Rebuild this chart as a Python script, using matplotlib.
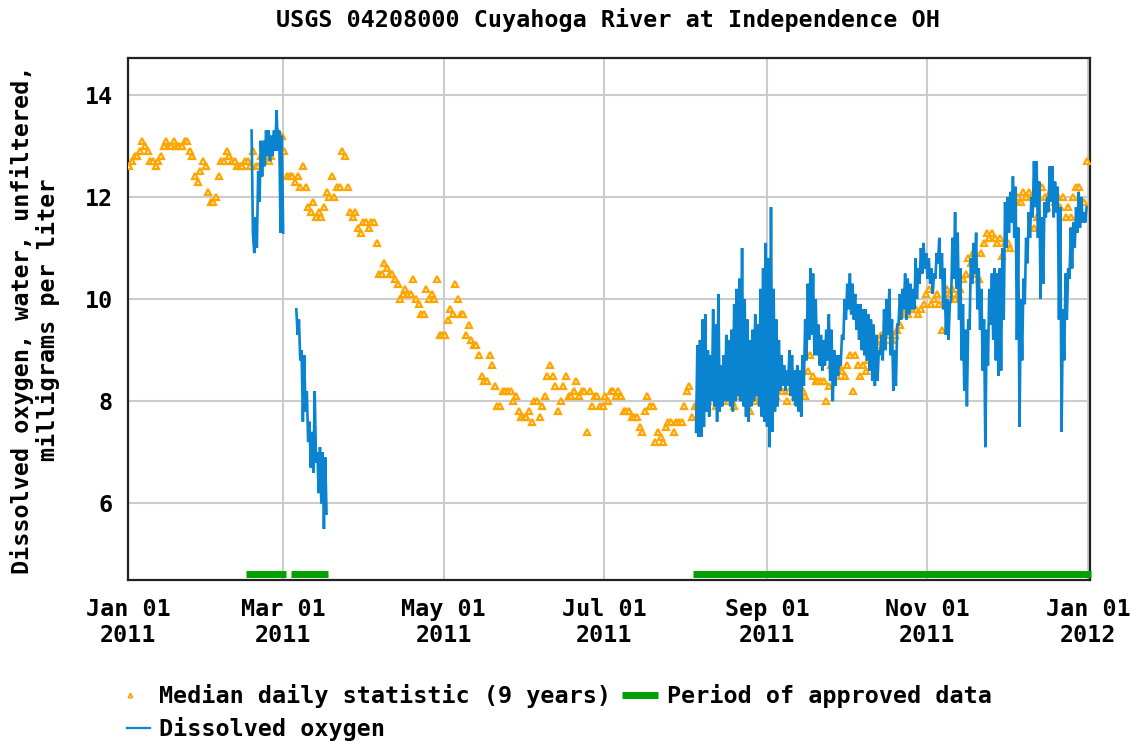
import numpy as np
import matplotlib
matplotlib.use("Agg")
import matplotlib.pyplot as plt
from matplotlib.lines import Line2D
import matplotlib.transforms as mtrans

# ---------------- data ----------------
title = "USGS 04208000 Cuyahoga River at Independence OH"
ylabel = "Dissolved oxygen, water, unfiltered,\nmilligrams per liter"

tick_days = [0, 59, 120, 181, 243, 304, 365]
tick_labels = ["Jan 01\n2011", "Mar 01\n2011", "May 01\n2011", "Jul 01\n2011",
               "Sep 01\n2011", "Nov 01\n2011", "Jan 01\n2012"]
y_ticks = [6, 8, 10, 12, 14]

# median daily statistic (9 years), one value per day of 2011
median_jan = [12.6, 12.7, 12.8, 12.8, 12.9, 13.1, 13.0, 12.9, 12.7, 12.7, 12.6, 12.7, 12.8, 13.0, 13.1, 13.0,
              13.0, 13.1, 13.0, 13.0, 13.0, 13.1, 13.1, 12.9, 12.8, 12.4, 12.3, 12.5, 12.7, 12.6, 12.1]
median_feb = [11.9, 11.9, 12.0, 12.4, 12.7, 12.7, 12.9, 12.8, 12.7, 12.7, 12.6, 12.6, 12.6, 12.7, 12.7, 12.6,
              12.9, 12.6, 12.6, 12.8, 12.9, 12.8, 12.7, 12.8, 13.1, 13.3, 13.2, 13.2]
median_mar = [12.9, 12.4, 12.4, 12.4, 12.3, 12.4, 12.2, 12.6, 12.2, 11.8, 11.7, 11.9, 11.6, 11.7, 11.6, 11.8,
              12.1, 12.0, 12.4, 12.0, 12.2, 12.2, 12.9, 12.8, 12.2, 11.7, 11.6, 11.7, 11.4, 11.3, 11.5]
median_apr = [11.5, 11.4, 11.5, 11.5, 11.1, 10.5, 10.5, 10.7, 10.6, 10.5, 10.5, 10.4, 10.3, 10.0, 10.1, 10.2,
              10.1, 10.1, 10.4, 10.0, 9.9, 9.7, 9.7, 10.2, 10.0, 10.1, 10.0, 10.4, 9.3, 9.3]
median_may = [9.3, 9.6, 9.8, 9.7, 10.3, 10.0, 9.7, 9.7, 9.3, 9.5, 9.2, 9.1, 9.1, 8.9, 8.5, 8.4,
              8.4, 8.9, 8.7, 8.3, 7.9, 7.9, 8.2, 8.2, 8.2, 8.2, 8.0, 8.1, 7.8, 7.7, 7.7]
median_jun = [7.7, 7.8, 7.6, 8.0, 8.0, 7.7, 7.9, 8.1, 8.5, 8.7, 8.5, 8.3, 7.8, 8.0, 8.3, 8.5,
              8.1, 8.1, 8.2, 8.4, 8.1, 8.2, 8.2, 7.4, 8.2, 7.9, 8.1, 8.1, 7.9, 7.9]
median_jul = [8.1, 8.0, 8.2, 8.2, 8.1, 8.2, 8.1, 7.8, 7.8, 7.8, 7.7, 7.7, 7.7, 7.5, 7.4, 7.8,
              8.1, 7.9, 7.9, 7.2, 7.4, 7.3, 7.2, 7.5, 7.6, 7.6, 7.4, 7.6, 7.6, 7.6, 7.9]
median_aug = [8.2, 8.3, 7.7, 7.9, 7.9, 8.0, 7.9, 8.1, 8.0, 8.2, 8.1, 7.9, 8.0, 8.1, 8.0, 8.2,
              8.1, 8.0, 7.9, 8.1, 8.2, 8.3, 8.4, 8.0, 7.8, 8.2, 8.0, 8.1, 8.2, 8.0, 8.1]
median_sep = [8.2, 8.3, 8.0, 8.1, 8.3, 8.2, 8.4, 8.0, 8.2, 8.3, 8.1, 8.0, 8.3, 8.2, 8.1, 8.6,
              8.9, 8.5, 8.4, 8.4, 8.4, 8.4, 8.0, 8.3, 8.7, 8.6, 8.5, 8.7, 8.6, 8.5]
median_oct = [8.7, 8.9, 8.2, 8.9, 8.7, 8.5, 8.7, 8.6, 8.8, 8.9, 9.1, 9.2, 9.1, 9.3, 9.2, 9.4,
              9.3, 9.2, 9.3, 9.4, 9.5, 9.7, 9.8, 9.7, 9.8, 9.8, 9.8, 9.7, 9.8, 9.9, 10.1]
median_nov = [10.2, 9.9, 10.0, 10.1, 9.9, 9.4, 10.0, 10.2, 10.1, 10.2, 10.0, 10.1, 10.2, 10.4, 10.5, 10.8,
              10.7, 10.9, 10.5, 10.4, 10.9, 11.1, 11.3, 11.2, 11.3, 11.2, 11.1, 11.2, 10.85, 11.1]
median_dec = [11.1, 11.0, 11.8, 11.9, 12.0, 11.9, 12.1, 12.0, 12.1, 12.0, 11.4, 11.6, 12.2, 12.2, 12.0, 11.8,
              12.1, 12.2, 11.9, 12.0, 11.8, 12.0, 11.6, 11.8, 11.6, 12.0, 12.2, 12.2, 11.7, 11.9, 12.7]

# dissolved oxygen, sampled every half day (start day, values)
do_step = 0.5
do_seg1_start = 47.0
do_seg1 = [13.3, 11.3, 10.9, 11.6, 11.0, 12.5, 11.9, 13.1, 12.4, 13.1, 12.6, 13.3, 12.8, 13.3, 12.7,
           13.2, 12.8, 13.3, 12.9, 13.7, 12.9, 13.3, 11.3, 13.2, 11.3]
do_seg2_start = 64.0
do_seg2 = [9.8, 9.3, 9.6, 8.8, 9.0, 7.6, 8.9, 7.8, 8.2, 7.2, 7.6, 6.7, 7.4, 6.6, 8.2, 6.8,
           7.0, 6.2, 7.1, 6.0, 7.0, 5.5, 6.9, 5.8]
do_seg3_start = 216.0
do_seg3 = [
    7.4, 9.1, 7.3, 9.2, 7.3, 9.6, 7.5, 9.7, 7.8, 9.0, 7.7, 8.9, 8.0, 9.8, 7.9, 9.5,
    7.6, 10.1, 7.8, 8.7, 7.9, 8.9, 8.0, 9.3, 8.0, 9.2, 7.9, 9.4, 7.8, 9.9, 8.0, 10.2,
    8.1, 10.4, 8.0, 11.0, 7.9, 10.0, 7.7, 9.6, 7.6, 9.2, 7.9, 9.4, 8.0, 9.7, 8.1, 9.5,
    7.9, 10.2, 7.7, 10.6, 7.6, 11.1, 7.5, 10.8, 7.1, 11.8, 7.4, 10.2, 7.8, 9.6, 7.9, 9.2,
    8.2, 8.9, 8.3, 8.7, 8.2, 8.6, 8.3, 9.0, 8.1, 8.9, 8.0, 8.6, 7.9, 8.7, 7.8, 8.6,
    7.7, 8.9, 8.3, 9.6, 8.8, 10.3, 9.2, 10.6, 9.3, 10.5, 8.9, 10.0, 8.9, 9.5, 8.7, 9.3,
    8.6, 9.2, 8.7, 9.4, 8.8, 9.7, 8.4, 9.4, 8.0, 9.0, 8.3, 8.9, 8.5, 8.9, 8.7, 9.3,
    9.2, 10.0, 9.6, 10.3, 9.8, 10.5, 9.7, 10.3, 9.6, 10.1, 9.4, 9.9, 9.2, 9.9, 9.0, 9.8,
    8.9, 9.8, 8.8, 9.7, 8.6, 9.6, 8.4, 9.5, 8.3, 9.3, 8.4, 9.0, 8.9, 9.3, 8.8, 9.8,
    9.0, 10.0, 9.3, 10.2, 8.9, 9.6, 8.2, 9.0, 8.3, 9.5, 9.5, 10.1, 9.6, 10.2, 9.8, 10.5,
    9.6, 10.4, 9.7, 10.3, 9.8, 10.2, 9.8, 10.8, 10.0, 10.6, 10.3, 11.0, 10.5, 11.1, 10.6, 10.9,
    10.4, 10.8, 10.3, 10.6, 10.1, 10.5, 10.4, 10.9, 10.7, 11.2, 10.4, 10.9, 9.8, 10.6, 9.3, 10.0,
    9.2, 9.9, 10.0, 11.2, 10.4, 11.7, 10.2, 11.3, 9.6, 10.6, 8.8, 9.9, 8.2, 9.4, 7.9, 9.6,
    9.4, 10.8, 10.3, 11.1, 10.5, 11.3, 9.8, 10.6, 9.4, 10.2, 8.6, 9.6, 7.1, 9.4, 8.7, 10.2,
    9.5, 10.5, 9.2, 10.6, 8.8, 10.5, 8.5, 10.6, 8.6, 11.0, 9.6, 11.9, 11.0, 12.0, 11.3, 12.1,
    11.5, 12.4, 11.2, 12.2, 9.2, 11.4, 7.5, 10.0, 8.8, 10.4, 9.9, 11.2, 10.7, 11.7, 11.2, 12.0,
    11.6, 12.7, 11.8, 12.7, 11.2, 12.3, 10.0, 11.6, 10.3, 11.9, 11.6, 12.0, 11.7, 12.6, 11.9, 12.6,
    11.6, 12.3, 11.7, 12.2, 9.6, 11.8, 7.4, 9.8, 8.8, 10.5, 9.6, 10.6, 10.4, 11.4, 10.6, 11.5,
    11.0, 11.8, 11.3, 12.1, 11.4, 12.0, 11.5, 11.7, 11.5, 11.8,
]

# periods of approved data (start day, end day)
approved_start = [45.0, 62.0, 215.0]
approved_end = [60.0, 76.0, 366.0]

# ---------------- styling ----------------
FONT = "DejaVu Sans Mono"
FS = 16.8
ORANGE = "#FFA500"
BLUE = "#0A84D0"
GREEN = "#00A000"
GRID = "#CCCCCC"

W, H = 1130, 742
fig = plt.figure(figsize=(W / 100, H / 100), dpi=100)
ax = fig.add_axes([128 / W, 1 - 580 / H, (1090 - 128) / W, (580 - 58) / H])

median = np.array(median_jan + median_feb + median_mar + median_apr + median_may + median_jun +
                  median_jul + median_aug + median_sep + median_oct + median_nov + median_dec)
median_days = np.arange(len(median)) + 0.5

def seg_xy(start, vals):
    x = start + do_step * np.arange(len(vals))
    return x, np.array(vals, dtype=float)

xs, ys = [], []
for st, vv in [(do_seg1_start, do_seg1), (do_seg2_start, do_seg2), (do_seg3_start, do_seg3)]:
    x, y = seg_xy(st, vv)
    xs.append(x); ys.append(y)
    xs.append([np.nan]); ys.append([np.nan])
do_x = np.concatenate(xs)
do_y = np.concatenate(ys)

ax.plot(median_days, median, linestyle="none", marker="^", ms=4.2, mfc="#FFF3DC",
        mec=ORANGE, mew=1.6, zorder=3)
ax.plot(do_x, do_y, color=BLUE, lw=1.9, zorder=4, solid_joinstyle="miter")

trans = mtrans.blended_transform_factory(ax.transData, ax.transAxes)
for s, e in zip(approved_start, approved_end):
    ax.plot([s, e], [0.012, 0.012], color=GREEN, lw=5, solid_capstyle="butt",
            transform=trans, zorder=5, clip_on=False)

ax.set_xlim(0, 365.8)
ax.set_ylim(4.5, 14.72)
ax.set_xticks(tick_days)
ax.set_xticklabels(tick_labels, fontfamily=FONT, fontweight="bold", fontsize=FS, linespacing=1.15)
ax.set_yticks(y_ticks)
ax.set_yticklabels([str(v) for v in y_ticks], fontfamily=FONT, fontweight="bold", fontsize=FS)
ax.tick_params(axis="x", length=0, pad=13)
ax.tick_params(axis="y", length=0, pad=11)
ax.grid(True, color=GRID, lw=1.5, zorder=0)
ax.set_axisbelow(True)
for sp in ax.spines.values():
    sp.set_color("#222222")
    sp.set_linewidth(1.6)

fig.text(608 / W, 1 - 20 / H, title, ha="center", va="center", fontfamily=FONT,
         fontweight="bold", fontsize=FS)
fig.text(35 / W, 1 - 320 / H, ylabel, ha="center", va="center", rotation=90,
         fontfamily=FONT, fontweight="bold", fontsize=FS, linespacing=1.1,
         multialignment="center")

# legend (figure coordinates)
def fx(px):
    return px / W

def fy(py):
    return 1 - py / H

fig.add_artist(Line2D([fx(130)], [fy(695)], transform=fig.transFigure, marker="^", ms=3.2,
                      mfc="#FFF3DC", mec=ORANGE, mew=1.2, linestyle="none"))
fig.text(fx(159), fy(696), "Median daily statistic (9 years)", ha="left", va="center",
         fontfamily=FONT, fontweight="bold", fontsize=FS)
fig.add_artist(Line2D([fx(622), fx(658)], [fy(695), fy(695)], transform=fig.transFigure,
                      color=GREEN, lw=5, solid_capstyle="butt"))
fig.text(fx(667), fy(696), "Period of approved data", ha="left", va="center",
         fontfamily=FONT, fontweight="bold", fontsize=FS)
fig.add_artist(Line2D([fx(127), fx(150)], [fy(728), fy(728)], transform=fig.transFigure,
                      color=BLUE, lw=1.6))
fig.text(fx(159), fy(729), "Dissolved oxygen", ha="left", va="center",
         fontfamily=FONT, fontweight="bold", fontsize=FS)

fig.savefig("out.png", dpi=100)
